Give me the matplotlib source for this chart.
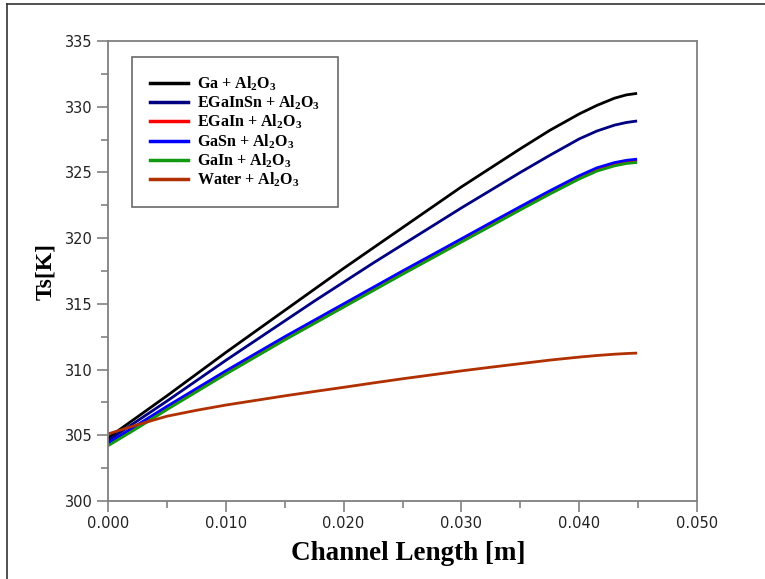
import matplotlib
matplotlib.use("Agg")
import matplotlib.pyplot as plt
from matplotlib.lines import Line2D
from matplotlib.ticker import MultipleLocator, FormatStrFormatter

plt.rcParams['mathtext.fontset'] = 'custom'
plt.rcParams['mathtext.rm'] = 'Liberation Serif:bold'
plt.rcParams['mathtext.it'] = 'Liberation Serif:bold'
plt.rcParams['mathtext.bf'] = 'Liberation Serif:bold'

# Channel length positions [m]
x = [0.0, 0.0025, 0.005, 0.0075, 0.01, 0.0125, 0.015, 0.0175, 0.02, 0.0225, 0.025,
     0.0275, 0.03, 0.0325, 0.035, 0.0375, 0.04, 0.0415, 0.043, 0.044, 0.0448]

ga = [304.8, 306.4, 308.0, 309.65, 311.3, 312.9, 314.5, 316.1, 317.7, 319.25, 320.8,
      322.35, 323.9, 325.35, 326.8, 328.2, 329.45, 330.1, 330.65, 330.9, 331.0]
egainsn = [304.6, 306.1, 307.6, 309.15, 310.7, 312.2, 313.7, 315.2, 316.65, 318.1, 319.5,
           320.9, 322.3, 323.65, 325.0, 326.3, 327.55, 328.15, 328.6, 328.8, 328.9]
egain = [304.35, 305.75, 307.15, 308.5, 309.85, 311.15, 312.45, 313.7, 314.95, 316.2, 317.45,
         318.67, 319.9, 321.12, 322.33, 323.52, 324.67, 325.27, 325.67, 325.84, 325.92]
gasn = [304.4, 305.8, 307.2, 308.55, 309.9, 311.2, 312.5, 313.75, 315.0, 316.25, 317.5,
        318.72, 319.95, 321.18, 322.4, 323.6, 324.75, 325.35, 325.75, 325.92, 326.0]
gain = [304.2, 305.55, 306.95, 308.3, 309.65, 310.95, 312.25, 313.5, 314.75, 316.0, 317.25,
        318.47, 319.7, 320.92, 322.15, 323.35, 324.5, 325.1, 325.5, 325.68, 325.75]
water = [305.1, 305.8, 306.45, 306.9, 307.3, 307.65, 308.0, 308.33, 308.65, 308.98, 309.3,
         309.6, 309.9, 310.18, 310.45, 310.72, 310.95, 311.07, 311.17, 311.22, 311.25]

labels = [r"Ga + Al$_{2}$O$_{3}$", r"EGaInSn + Al$_{2}$O$_{3}$", r"EGaIn + Al$_{2}$O$_{3}$",
          r"GaSn + Al$_{2}$O$_{3}$", r"GaIn + Al$_{2}$O$_{3}$", r"Water + Al$_{2}$O$_{3}$"]
series = [ga, egainsn, egain, gasn, gain, water]
colors = ["#000000", "#000080", "#ff0000", "#0000ff", "#119911", "#b03000"]

xticks = [0.0, 0.01, 0.02, 0.03, 0.04, 0.05]
yticks = [300, 305, 310, 315, 320, 325, 330, 335]

fig = plt.figure(figsize=(7.65, 5.79), dpi=100)
ax = fig.add_axes([108/765, 1-501/579, (697-108)/765, (501-41)/579])

for y, c, lab in zip(series, colors, labels):
    ax.plot(x, y, color=c, lw=2.0, label=lab)

ax.set_xlim(0, 0.05)
ax.set_ylim(300, 335)
ax.set_xticks(xticks)
ax.set_yticks(yticks)
ax.xaxis.set_major_formatter(FormatStrFormatter('%.3f'))
ax.xaxis.set_minor_locator(MultipleLocator(0.005))
ax.yaxis.set_minor_locator(MultipleLocator(2.5))
ax.tick_params(which='major', direction='out', length=8, width=1.1, color='#777777',
               labelsize=10.5, labelcolor='#222222', pad=3)
ax.tick_params(which='minor', direction='out', length=5, width=1.1, color='#777777')
for s in ax.spines.values():
    s.set_color('#808080')
    s.set_linewidth(1.3)

ax.set_xlabel("Channel Length [m]", fontsize=19.5, fontweight='bold', family='Liberation Serif')
ax.xaxis.set_label_coords(0.5 + 6/589, -(541-501)/460)
ax.set_ylabel("Ts[K]", fontsize=17, fontweight='bold', family='Liberation Serif', labelpad=6)

leg = ax.legend(loc='upper left', bbox_to_anchor=((132-108)/589, (501-57)/460),
                prop={'family': 'Liberation Serif', 'weight': 'bold', 'size': 11.5},
                frameon=True, fancybox=False, edgecolor='#444444', handlelength=2.4,
                labelspacing=0.05, borderpad=1.1, handletextpad=0.6, borderaxespad=0)
leg.get_frame().set_linewidth(1.2)
for line in leg.get_lines():
    line.set_linewidth(2.5)

fig.add_artist(Line2D([7/765, 7/765], [0, 1-4/579], color='#333333', lw=1.2))
fig.add_artist(Line2D([7/765, 1], [1-4/579, 1-4/579], color='#333333', lw=1.2))

fig.savefig("out.png", dpi=100)
